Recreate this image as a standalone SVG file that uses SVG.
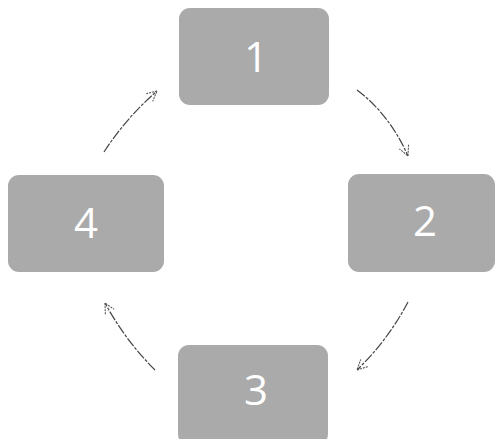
<svg xmlns="http://www.w3.org/2000/svg" width="496" height="439" viewBox="0 0 496 439">
<style>
.box{fill:#aaaaaa}
.num{font-family:"Open Sans","Liberation Sans",sans-serif;font-size:42px;fill:#ffffff;text-anchor:middle}
.conn{fill:none;stroke:#444;stroke-width:1.2;stroke-dasharray:10 1.5 3 1.5;marker-end:url(#head)}
</style>
<defs>
<marker id="head" viewBox="0 0 12 12" refX="11" refY="6" markerWidth="12" markerHeight="12" markerUnits="userSpaceOnUse" orient="auto">
<path d="M1,1 L11,6 L1,11" fill="none" stroke="#555" stroke-width="1.1" stroke-dasharray="2 1"/>
</marker>
</defs>
<g id="node1"><rect class="box" x="179" y="8" width="150" height="97" rx="11"/><text class="num" x="256" y="72">1</text></g>
<g id="node2"><rect class="box" x="348" y="174" width="147" height="98" rx="11"/><text class="num" x="425" y="236">2</text></g>
<g id="node3"><rect class="box" x="178" y="345" width="150" height="100" rx="11"/><text class="num" x="256" y="405">3</text></g>
<g id="node4"><rect class="box" x="8" y="175" width="156" height="97" rx="11"/><text class="num" x="86" y="238">4</text></g>
<g id="connectors">
<path class="conn" d="M104,152 Q126,118 157,91"/>
<path class="conn" d="M357,90 Q390,115 408,156"/>
<path class="conn" d="M408,302 Q388,340 357,370"/>
<path class="conn" d="M155,370 Q125,340 105,303"/>
</g>
</svg>
